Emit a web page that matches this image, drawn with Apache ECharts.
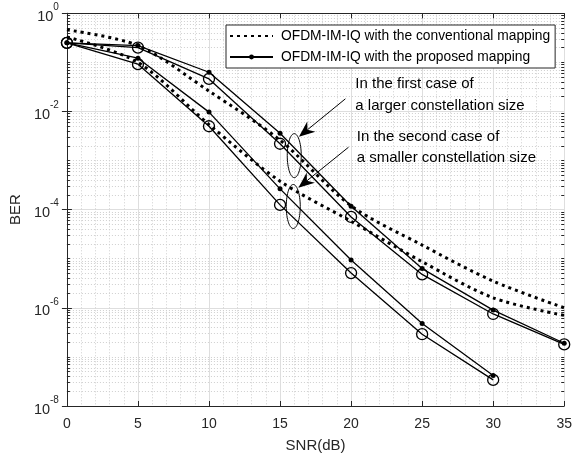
<!DOCTYPE html>
<html>
<head>
<meta charset="UTF-8">
<title>BER vs SNR</title>
<style>
*{margin:0;padding:0;}
body{background:#fff;}
#chart{width:575px;height:458px;}
</style>
</head>
<body>
<div id="chart"></div>
<script src="https://cdn.jsdelivr.net/npm/echarts@6/dist/echarts.min.js"></script>
<script>
// SNR points (dB)
var snr = [0, 5, 10, 15, 20, 25, 30, 35];

// first case: larger constellation size
var convLarge = [0.46, 0.22, 0.026, 0.0026, 1.2e-4, 1.9e-5, 3.5e-6, 1.0e-6];
var propLarge = [0.25, 0.22, 0.063, 0.0036, 1.17e-4, 6.3e-6, 9.0e-7, 1.9e-7];
var circLarge = [0.25, 0.20, 0.046, 0.0022, 7.1e-5, 4.8e-6, 7.5e-7, 1.8e-7];

// second case: smaller constellation size (simulated up to 30 dB)
var convSmall = [0.33, 0.10, 0.0054, 3.8e-4, 5.8e-5, 8.7e-6, 1.6e-6, 7.0e-7];
var propSmall = [0.25, 0.122, 0.0097, 2.65e-4, 9.4e-6, 4.8e-7, 4.2e-8];
var circSmall = [0.25, 0.092, 0.005, 1.25e-4, 5.1e-6, 2.9e-7, 3.4e-8];

var CONV = 'OFDM-IM-IQ with the conventional mapping';
var PROP = 'OFDM-IM-IQ with the proposed mapping';
var FONT = '"Liberation Sans", Arial, sans-serif';
var AX = '#262626';

function pairs(ys){
	return ys.map(function(v, i){ return [snr[i], v]; });
}

// log minor grid: 2..9 of each decade plus the unlabeled decades
var minorVals = [];
for (var k = -8; k < 0; k++) {
	if (k % 2 !== 0) minorVals.push(Math.pow(10, k));
	for (var m = 2; m <= 9; m++) minorVals.push(m * Math.pow(10, k));
}

var chart = echarts.init(document.getElementById('chart'));

function convSeries(ys){
	return {
		name: CONV, type: 'line', data: pairs(ys), symbol: 'none', smooth: 0.3,
		lineStyle: {color: '#000', width: 3, type: [3, 4]},
		itemStyle: {color: '#000'}, z: 3
	};
}
function propSeries(ys){
	return {
		name: PROP, type: 'line', data: pairs(ys), symbol: 'circle', symbolSize: 5,
		lineStyle: {color: '#000', width: 1.3},
		itemStyle: {color: '#000'}, z: 4
	};
}
function circSeries(name, ys){
	return {
		name: name, type: 'line', data: pairs(ys), symbol: 'circle', symbolSize: 11,
		lineStyle: {color: '#000', width: 1.3},
		itemStyle: {color: 'rgba(0,0,0,0)', borderColor: '#000', borderWidth: 1.3}, z: 4
	};
}

var option = {
	animation: false,
	grid: {left: 66.7, right: 9.3, top: 13.3, bottom: 51, containLabel: false},
	legend: {
		data: [
			{name: CONV, itemStyle: {color: 'rgba(0,0,0,0)', borderWidth: 0}},
			{name: PROP}
		],
		orient: 'vertical',
		left: 226, top: 25,
		itemWidth: 43, itemHeight: 6, itemGap: 5,
		padding: [3, 5, 3, 3],
		borderColor: AX, borderWidth: 1,
		backgroundColor: '#fff',
		selectedMode: false,
		textStyle: {fontSize: 13.8, fontFamily: FONT, color: '#000', padding: [0, 0, 0, 3], lineHeight: 16}
	},
	xAxis: [
		{
			type: 'value', min: 0, max: 35, interval: 5, position: 'bottom',
			name: 'SNR(dB)', nameLocation: 'middle', nameGap: 32,
			nameTextStyle: {fontSize: 15, fontFamily: FONT, color: AX},
			axisLine: {show: true, lineStyle: {color: AX, width: 1}},
			axisTick: {inside: true, length: 5, lineStyle: {color: AX}},
			axisLabel: {margin: 11, fontSize: 14, fontFamily: FONT, color: AX},
			splitLine: {show: true, lineStyle: {color: '#dedede', width: 1}},
			minorTick: {show: false, splitNumber: 5},
			minorSplitLine: {show: true, lineStyle: {color: '#cfcfcf', width: 1, type: [1, 2]}}
		},
		{
			type: 'value', min: 0, max: 35, interval: 5, position: 'top',
			axisLine: {show: true, lineStyle: {color: AX, width: 1}},
			axisTick: {inside: true, length: 5, lineStyle: {color: AX}},
			axisLabel: {show: false},
			splitLine: {show: false}
		}
	],
	yAxis: [
		{
			type: 'log', logBase: 10, min: 1e-8, max: 1, interval: 2, position: 'left',
			name: 'BER', nameLocation: 'middle', nameGap: 36,
			nameTextStyle: {fontSize: 15, fontFamily: FONT, color: AX},
			axisLine: {show: true, lineStyle: {color: AX, width: 1}},
			axisTick: {inside: true, length: 5, lineStyle: {color: AX}},
			axisLabel: {
				margin: 8,
				formatter: function(v){
					var e = Math.round(Math.log(v) / Math.LN10);
					return '{b|10}{s|' + e + '}';
				},
				rich: {
					b: {fontSize: 14.5, lineHeight: 22, verticalAlign: 'bottom', fontFamily: FONT, color: AX},
					s: {fontSize: 10, lineHeight: 10, verticalAlign: 'top', fontFamily: FONT, color: AX}
				}
			},
			splitLine: {show: true, lineStyle: {color: '#dedede', width: 1}}
		},
		{
			type: 'log', logBase: 10, min: 1e-8, max: 1, interval: 2, position: 'right',
			axisLine: {show: true, lineStyle: {color: AX, width: 1}},
			axisTick: {inside: true, length: 5, lineStyle: {color: AX}},
			axisLabel: {show: false},
			splitLine: {show: false}
		},
		{
			type: 'log', logBase: 10, min: 1e-8, max: 1, position: 'left',
			axisLine: {show: false},
			axisTick: {inside: true, length: 3, customValues: minorVals, lineStyle: {color: AX}},
			axisLabel: {show: false, customValues: minorVals},
			splitLine: {show: true, lineStyle: {color: '#cfcfcf', width: 1, type: [1, 2]}}
		},
		{
			type: 'log', logBase: 10, min: 1e-8, max: 1, position: 'right',
			axisLine: {show: false},
			axisTick: {inside: true, length: 3, customValues: minorVals, lineStyle: {color: AX}},
			axisLabel: {show: false, customValues: minorVals},
			splitLine: {show: false}
		}
	],
	series: [
		convSeries(convLarge),
		convSeries(convSmall),
		propSeries(propLarge),
		propSeries(propSmall),
		circSeries('circ-large', circLarge),
		circSeries('circ-small', circSmall)
	]
};
chart.setOption(option);

// annotations, anchored in data coordinates
function px(x, y){ return chart.convertToPixel({xAxisIndex: 0, yAxisIndex: 0}, [x, y]); }

function ellipse(c, rx, ry){
	var p = px(c[0], c[1]), pts = [];
	for (var i = 0; i < 60; i++) {
		var a = i / 60 * Math.PI * 2;
		pts.push([p[0] + rx * Math.cos(a), p[1] + ry * Math.sin(a)]);
	}
	return {type: 'polygon', shape: {points: pts}, style: {fill: 'none', stroke: '#000', lineWidth: 1}, z: 10};
}

function arrow(from, to){
	var a = px(from[0], from[1]), b = px(to[0], to[1]);
	var dx = b[0] - a[0], dy = b[1] - a[1], len = Math.sqrt(dx * dx + dy * dy);
	var ux = dx / len, uy = dy / len, nx = -uy, ny = ux;
	var L = 16, W = 6.5, back = 11;
	var head = [
		b,
		[b[0] - ux * L + nx * W, b[1] - uy * L + ny * W],
		[b[0] - ux * back, b[1] - uy * back],
		[b[0] - ux * L - nx * W, b[1] - uy * L - ny * W]
	];
	return [
		{type: 'line', shape: {x1: a[0], y1: a[1], x2: b[0] - ux * back, y2: b[1] - uy * back}, style: {stroke: '#000', lineWidth: 1}, z: 10},
		{type: 'polygon', shape: {points: head}, style: {fill: '#000'}, z: 10}
	];
}

function label(txt, x, y){
	var p = px(x, y);
	return {type: 'text', x: p[0], y: p[1], z: 10,
		style: {text: txt, font: '15px ' + FONT, fill: '#000', verticalAlign: 'middle', align: 'left'}};
}

var g = [];
g.push(ellipse([16.0, 1.26e-3], 7, 22));
g.push(ellipse([15.93, 1.16e-4], 7, 22));
g = g.concat(arrow([19.6, 0.0181], [16.33, 0.00306]));
g = g.concat(arrow([19.82, 0.00187], [16.29, 2.8e-4]));
g.push(label('In the first case of', 20.3, 0.0366));
g.push(label('a larger constellation size', 20.3, 0.0131));
g.push(label('In the second case of', 20.4, 0.00306));
g.push(label('a smaller constellation size', 20.4, 0.00115));

chart.setOption({graphic: g});
</script>
</body>
</html>
